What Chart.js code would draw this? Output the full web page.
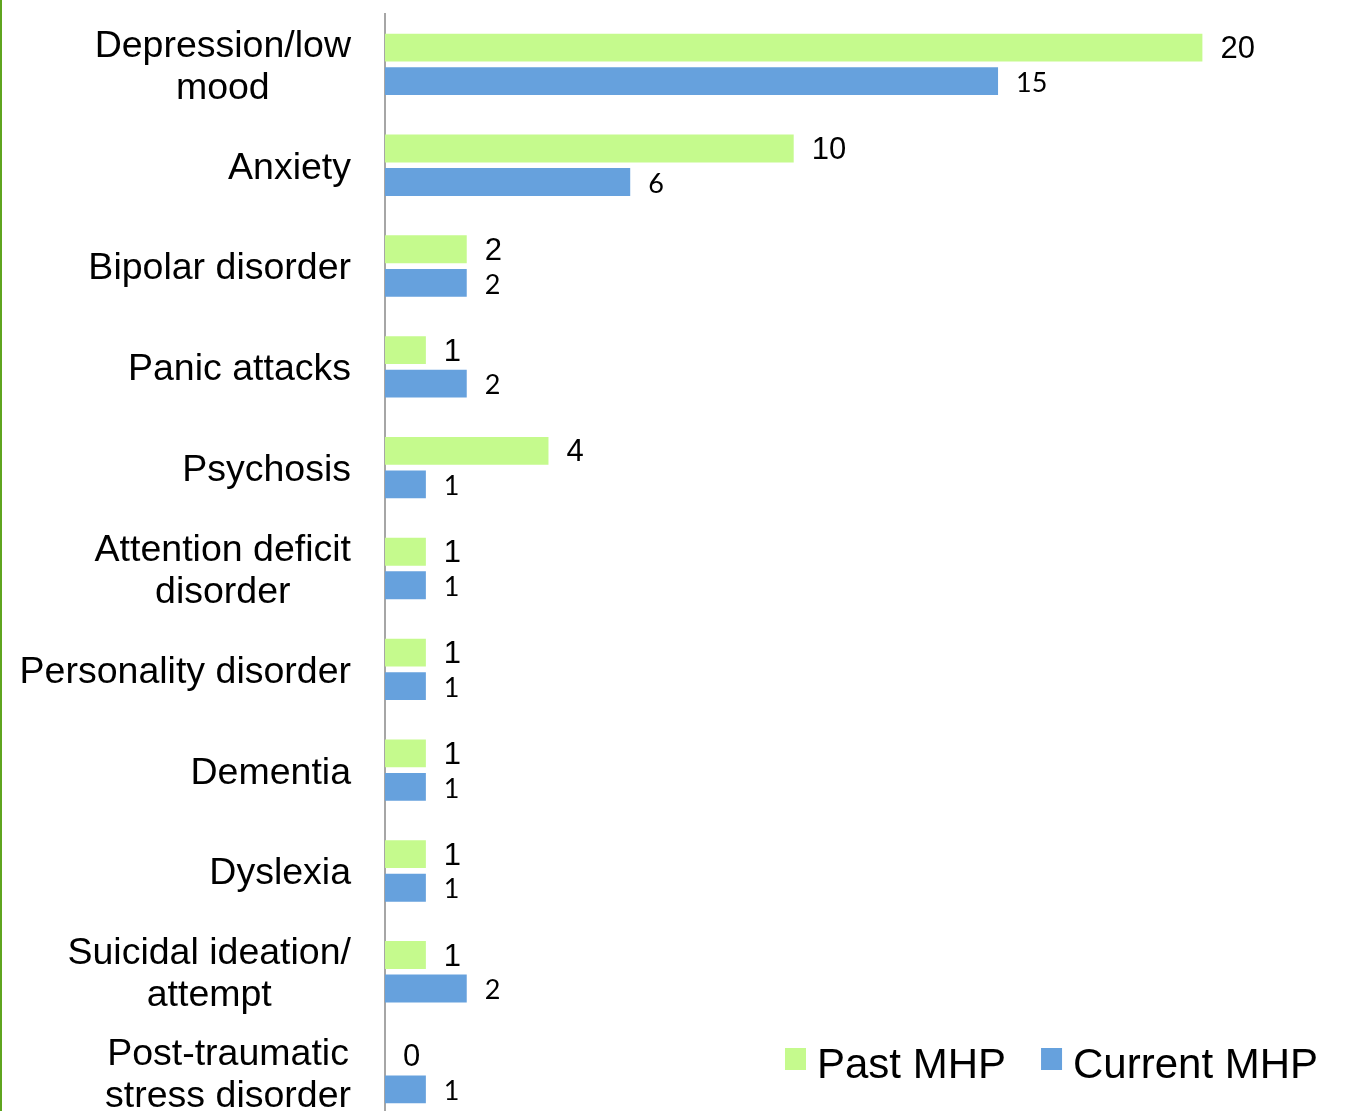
<!DOCTYPE html>
<html>
<head>
<meta charset="utf-8">
<script src="https://cdn.jsdelivr.net/npm/chart.js@4/dist/chart.umd.min.js"></script>
<style>
  html, body { margin: 0; padding: 0; background: #ffffff; overflow: hidden; width: 1352px; height: 1111px; }
  #edge { position: absolute; left: 0; top: 0; width: 2px; height: 1111px; background: #5fa51f; }
  #wrap { position: absolute; left: 0; top: 0; width: 1352px; height: 1123px; }
</style>
</head>
<body>
<div id="wrap"><canvas id="c" width="1352" height="1123"></canvas></div>
<div id="edge"></div>
<script>
const categories = [
  ["Depression/low", "mood"],
  ["Anxiety"],
  ["Bipolar disorder"],
  ["Panic attacks"],
  ["Psychosis"],
  ["Attention deficit", "disorder"],
  ["Personality disorder"],
  ["Dementia"],
  ["Dyslexia"],
  ["Suicidal ideation/", "attempt"],
  ["Post-traumatic", "stress disorder"]
];
const pastMHP = [20, 10, 2, 1, 4, 1, 1, 1, 1, 1, 0];
const currentMHP = [15, 6, 2, 2, 1, 1, 1, 1, 1, 2, 1];
const seriesNames = ["Past MHP", "Current MHP"];

const valueLabels = {
  id: 'valueLabels',
  afterDatasetsDraw(chart) {
    const ctx = chart.ctx;
    const fonts = ['31px "Liberation Sans", Arial, sans-serif', '27px Lato, "Open Sans", sans-serif'];
    chart.data.datasets.forEach((ds, di) => {
      const meta = chart.getDatasetMeta(di);
      ctx.save();
      ctx.font = fonts[di];
      ctx.fillStyle = '#000';
      ctx.textAlign = 'left';
      ctx.textBaseline = 'middle';
      meta.data.forEach((el, i) => {
        ctx.fillText(String(ds.data[i]), el.x + 18, el.y + 2);
      });
      ctx.restore();
    });
  }
};

const categoryLabels = {
  id: 'categoryLabels',
  afterDraw(chart) {
    const ctx = chart.ctx;
    const y = chart.scales.y;
    const size = 37.5, lineGap = 42, rightEdge = 351;
    ctx.save();
    ctx.font = size + 'px "Liberation Sans", Arial, sans-serif';
    ctx.fillStyle = '#000';
    ctx.textAlign = 'center';
    ctx.textBaseline = 'alphabetic';
    chart.data.labels.forEach((lines, i) => {
      const cy = y.getPixelForValue(i);
      const w = Math.max(...lines.map(l => ctx.measureText(l).width));
      const cx = rightEdge - w / 2;
      const n = lines.length;
      lines.forEach((l, k) => {
        const base = cy + (k - (n - 1) / 2) * lineGap + size * 0.716 / 2;
        ctx.fillText(l, cx, base);
      });
    });
    ctx.restore();
  }
};

const legendDraw = {
  id: 'legendDraw',
  afterDraw(chart) {
    const ctx = chart.ctx;
    ctx.save();
    ctx.font = '42px "Liberation Sans", Arial, sans-serif';
    ctx.textBaseline = 'alphabetic';
    ctx.textAlign = 'left';
    let x = 785;
    const baseline = 1078;
    chart.data.datasets.forEach((ds, di) => {
      ctx.fillStyle = ds.backgroundColor;
      ctx.fillRect(x, 1048, 21, 22);
      x += 32;
      ctx.fillStyle = '#000';
      ctx.fillText(ds.label, x, baseline);
      x += ctx.measureText(ds.label).width + 35;
    });
    ctx.restore();
  }
};

new Chart(document.getElementById('c'), {
  type: 'bar',
  data: {
    labels: categories,
    datasets: [
      { label: seriesNames[0], data: pastMHP, backgroundColor: '#c5fa8d', borderWidth: 0,
        categoryPercentage: 0.665, barPercentage: 0.83 },
      { label: seriesNames[1], data: currentMHP, backgroundColor: '#66a1dd', borderWidth: 0,
        categoryPercentage: 0.665, barPercentage: 0.83 }
    ]
  },
  options: {
    indexAxis: 'y',
    responsive: false,
    animation: false,
    devicePixelRatio: 1,
    layout: { padding: { left: 385, right: 27, top: 14, bottom: 0 } },
    plugins: { legend: { display: false }, tooltip: { enabled: false } },
    scales: {
      x: { display: false, min: 0, max: 23, grid: { display: false } },
      y: {
        grid: { display: false, drawTicks: false },
        ticks: { display: false },
        border: { display: true, color: '#a6a6a6', width: 2 },
        afterFit(s) { s.width = 0; }
      }
    }
  },
  plugins: [valueLabels, categoryLabels, legendDraw]
});
</script>
</body>
</html>
